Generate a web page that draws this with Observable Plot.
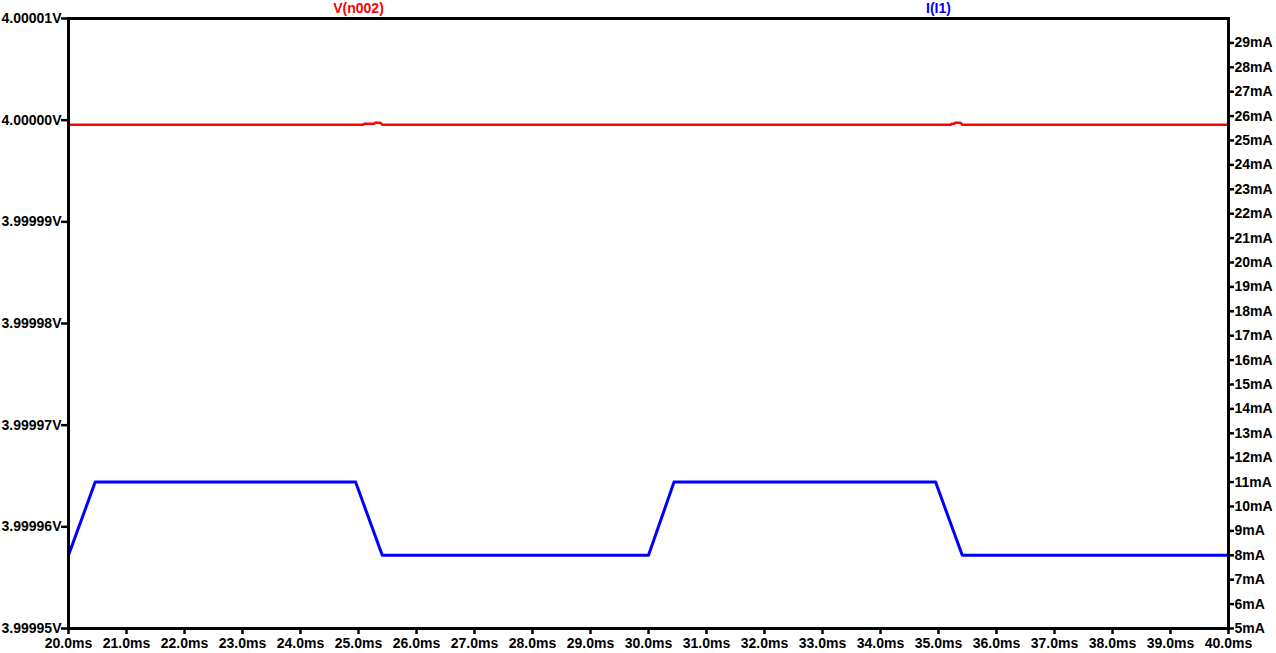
<!DOCTYPE html>
<html>
<head>
<meta charset="utf-8">
<script src="https://cdn.jsdelivr.net/npm/d3@7"></script>
<script src="https://cdn.jsdelivr.net/npm/@observablehq/plot@0.6"></script>
<style>
  html, body { margin: 0; padding: 0; background: #fff; }
  svg text { font-family: "Liberation Sans", Arial, sans-serif; }
</style>
</head>
<body>
<div id="chart"></div>
<script>
// ---- data ----
const vTime = [20.0, 25.08, 25.10, 25.27, 25.29, 25.38, 25.41, 35.21, 35.23, 35.27, 35.29, 35.38, 35.41, 40.0];
const vValue = [3.99999955, 3.99999955, 3.99999965, 3.99999965, 3.99999975, 3.99999975, 3.99999955, 3.99999955, 3.99999965, 3.99999965, 3.99999975, 3.99999975, 3.99999955, 3.99999955];
const iTime = [20.0, 20.46, 24.95, 25.41, 30.0, 30.44, 34.95, 35.41, 40.0];
const iValue = [8, 11, 11, 8, 8, 11, 11, 8, 8]; // mA
const xTicks = d3.range(20, 40.0001, 1);
const vTicks = [3.99995, 3.99996, 3.99997, 3.99998, 3.99999, 4.00000, 4.00001];
const iTicks = d3.range(5, 30, 1); // mA
const vDomain = [3.99995, 4.00001];
const iDomain = [5, 30];
const seriesLabels = [
  {name: "V(n002)", at: 25.0, color: "#ff0000"},
  {name: "I(I1)", at: 35.0, color: "#0000ff"}
];

// map current (mA) onto the voltage scale for the right-hand axis
const iToV = mA => vDomain[0] + (mA - iDomain[0]) / (iDomain[1] - iDomain[0]) * (vDomain[1] - vDomain[0]);
const vToI = v => iDomain[0] + (v - vDomain[0]) / (vDomain[1] - vDomain[0]) * (iDomain[1] - iDomain[0]);

const vData = vTime.map((t, k) => ({t, v: vValue[k]}));
const iData = iTime.map((t, k) => ({t, v: iToV(iValue[k])}));

const FS = 14;
const plot = Plot.plot({
  width: 1276,
  height: 653,
  marginLeft: 68,
  marginRight: 48,
  marginTop: 18,
  marginBottom: 25,
  style: {fontSize: FS + "px", fontWeight: "bold", color: "#000", background: "#fff", overflow: "visible"},
  x: {domain: [20, 40]},
  y: {domain: vDomain},
  marks: [
    Plot.line(iData, {x: "t", y: "v", stroke: "#0000ff", strokeWidth: 3}),
    Plot.line(vData, {x: "t", y: "v", stroke: "#ff0000", strokeWidth: 2.5}),
    Plot.frame({stroke: "#000", strokeWidth: 3}),
    Plot.axisX({ticks: xTicks, tickSize: 6, tickPadding: 4, strokeWidth: 2.5, label: null,
      tickFormat: d => d3.format(".1f")(d) + "ms", fontSize: FS, fontWeight: "bold"}),
    Plot.axisY({anchor: "left", ticks: vTicks, tickSize: 7, tickPadding: 0, strokeWidth: 2.5, label: null,
      tickFormat: d => d3.format(".5f")(d) + "V", fontSize: FS, fontWeight: "bold"}),
    Plot.axisY({anchor: "right", ticks: iTicks.map(iToV), tickSize: 5, tickPadding: 1, strokeWidth: 2.5, label: null,
      tickFormat: d => Math.round(vToI(d)) + "mA", fontSize: FS, fontWeight: "bold"}),
    Plot.text(seriesLabels, {x: "at", frameAnchor: "top", lineAnchor: "middle", dy: -10, text: "name", fill: "color",
      fontSize: FS, fontWeight: "bold", textAnchor: "middle"})
  ]
});
document.getElementById("chart").appendChild(plot);
</script>
</body>
</html>
